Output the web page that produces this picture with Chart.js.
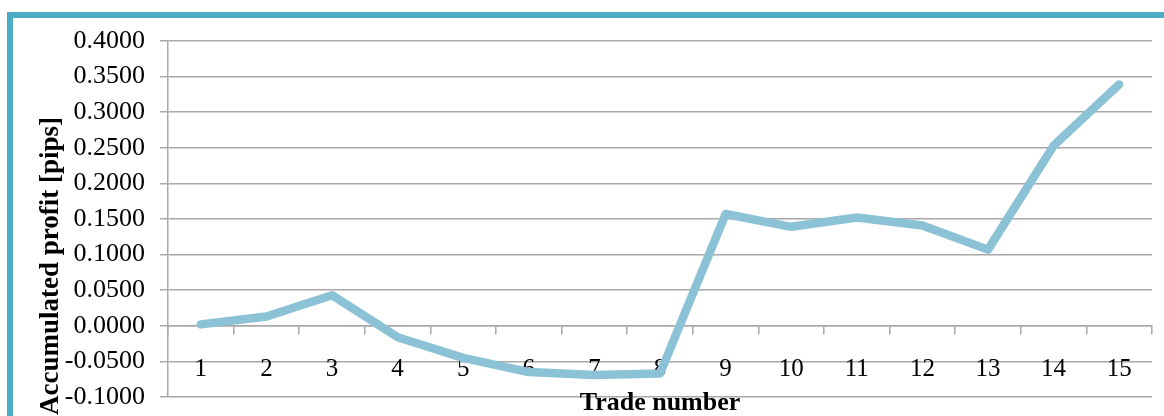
<!DOCTYPE html>
<html>
<head>
<meta charset="utf-8">
<script src="https://cdn.jsdelivr.net/npm/chart.js@4.4.1/dist/chart.umd.min.js"></script>
<style>
  html, body { margin: 0; padding: 0; background: #ffffff; overflow: hidden; }
  #wrap { position: relative; width: 1164px; height: 416px; }
  #frame { position: absolute; left: 7px; top: 12px; right: 0; bottom: 0;
           border-left: 6px solid #4BACC6; border-top: 6px solid #4BACC6; }
  canvas { position: absolute; left: 0; top: 0; }
</style>
</head>
<body>
<div id="wrap">
  <div id="frame"></div>
  <canvas id="c" width="1164" height="416"></canvas>
</div>
<script>
const categories = ['1','2','3','4','5','6','7','8','9','10','11','12','13','14','15'];
const profit = [0.002, 0.013, 0.043, -0.016, -0.045, -0.065, -0.069, -0.067, 0.157, 0.139, 0.152, 0.141, 0.107, 0.253, 0.339];
const yTitle = 'Accumulated profit [pips]';
const xTitle = 'Trade number';

const FONT = "'Liberation Serif', 'Times New Roman', serif";
const GRID = '#A8A8A8';

const titlePlugin = {
  id: 'titles',
  afterDraw(chart) {
    const ctx = chart.ctx;
    const a = chart.chartArea;
    ctx.save();
    ctx.fillStyle = '#000';
    ctx.textAlign = 'center';
    ctx.textBaseline = 'middle';
    ctx.font = "bold 26px " + FONT;
    ctx.fillText(xTitle, (a.left + a.right) / 2, 403);
    ctx.font = "bold 27px " + FONT;
    ctx.translate(51, 266);
    ctx.rotate(-Math.PI / 2);
    ctx.fillText(yTitle, 0, 0);
    ctx.restore();
  }
};

new Chart(document.getElementById('c'), {
  type: 'line',
  data: {
    labels: categories,
    datasets: [{
      data: profit,
      borderColor: '#8CC2D5',
      borderWidth: 8.5,
      pointRadius: 0,
      tension: 0,
      borderCapStyle: 'round',
      borderJoinStyle: 'round',
      fill: false
    }]
  },
  options: {
    responsive: false,
    animation: false,
    devicePixelRatio: 1,
    layout: { padding: { left: 0, right: 12, top: 41, bottom: 19 } },
    plugins: { legend: { display: false }, tooltip: { enabled: false }, title: { display: false } },
    scales: {
      y: {
        min: -0.1, max: 0.4,
        afterFit(scale) { scale.width = 168; scale.paddingTop = 0; scale.paddingBottom = 0; },
        ticks: {
          stepSize: 0.05,
          padding: 15,
          color: '#000',
          font: { family: FONT, size: 26 },
          callback: v => Number(v).toFixed(4)
        },
        grid: { color: GRID, lineWidth: 1.5, tickLength: 8 },
        border: { display: true, color: GRID, width: 1.5 }
      },
      x: {
        type: 'category',
        offset: true,
        position: { y: 0 },
        ticks: {
          padding: 21,
          color: '#000',
          maxRotation: 0,
          font: { family: FONT, size: 25 }
        },
        grid: { offset: true, drawOnChartArea: false, color: GRID, lineWidth: 1.5, tickLength: 8 },
        border: { display: true, color: GRID, width: 1.5 }
      }
    }
  },
  plugins: [titlePlugin]
});
</script>
</body>
</html>
